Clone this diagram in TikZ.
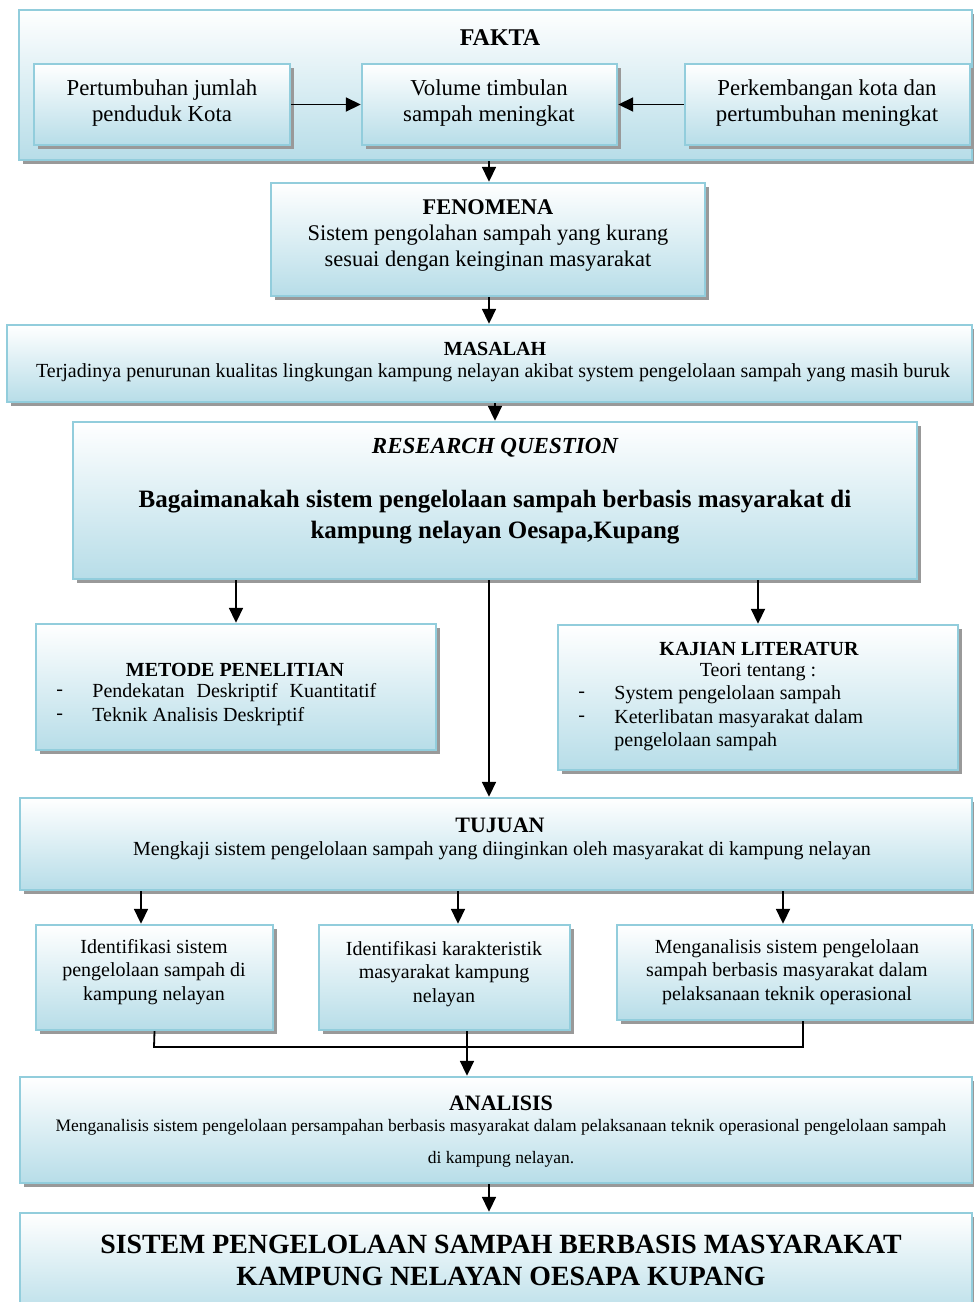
\documentclass[tikz,border=0pt]{standalone}
\usepackage{fontspec}
\setmainfont{Liberation Serif}
\usetikzlibrary{fit,shadows,arrows.meta}
\definecolor{bord}{RGB}{146,205,220}
\definecolor{botc}{RGB}{183,221,232}
\tikzset{
 box/.style={draw=bord, line width=1.2pt, top color=white, bottom color=botc, inner sep=0pt,
   drop shadow={shadow xshift=1.8pt, shadow yshift=-1.8pt, fill=black!40, opacity=1}},
 arr/.style={-{Triangle[length=7.5pt,width=7pt]}, line width=0.9pt},
 ln/.style={line width=0.9pt},
 txt/.style={inner sep=0pt, align=center, font=\fontsize{11.4}{13}\selectfont},
 lft/.style={inner sep=0pt, anchor=west, font=\fontsize{10}{12}\selectfont},
}
\begin{document}
\begin{tikzpicture}[x=0.5pt,y=-0.5pt]
\useasboundingbox (0,0) rectangle (974,1302);
% boxes
\node[box, fit={(19,10)(972,160)}] (fk) {};
\node[box, fit={(34,64)(290,145)}] (b1) {};
\node[box, fit={(362,64)(617,145)}] (b2) {};
\node[box, fit={(685,64)(970,145)}] (b3) {};
\node[box, fit={(271,183)(705,296)}] (fen) {};
\node[box, fit={(7,325)(972,402)}] (mas) {};
\node[box, fit={(73,422)(917,579)}] (rq) {};
\node[box, fit={(36,624)(436,750)}] (met) {};
\node[box, fit={(558,625)(958,770)}] (kaj) {};
\node[box, fit={(20,798)(972,890)}] (tuj) {};
\node[box, fit={(36,925)(273,1030)}] (ia) {};
\node[box, fit={(319,925)(570,1030)}] (ib) {};
\node[box, fit={(617,925)(972,1020)}] (ic) {};
\node[box, fit={(20,1077)(972,1183)}] (ana) {};
\node[box, fit={(20,1213)(972,1320)}] (fin) {};
% texts
\begin{scope}[yshift=-1pt]
\node[txt, font=\fontsize{12}{13}\selectfont\bfseries] (tfk) at (500,36) {FAKTA};
\node[txt] (t1) at (162,101) {Pertumbuhan jumlah\\penduduk Kota};
\node[txt] (t2) at (489,101) {Volume timbulan\\sampah meningkat};
\node[txt] (t3) at (827,101) {Perkembangan kota dan\\pertumbuhan meningkat};
\node[txt, font=\fontsize{11.2}{13}\selectfont] (tfen) at (488,233) {\textbf{FENOMENA}\\Sistem pengolahan sampah yang kurang\\sesuai dengan keinginan masyarakat};
\node[txt, font=\fontsize{10}{12}\selectfont\bfseries] (tmas1) at (495,347) {MASALAH};
\node[txt, font=\fontsize{10}{12}\selectfont] (tmas2) at (493,371) {Terjadinya penurunan kualitas lingkungan kampung nelayan akibat system pengelolaan sampah yang masih buruk};
\node[txt, font=\fontsize{11.5}{13}\selectfont\bfseries\itshape] (trq1) at (495,446) {RESEARCH QUESTION};
\node[txt, font=\fontsize{12.5}{15.5}\selectfont\bfseries] (trq2) at (495,515) {Bagaimanakah sistem pengelolaan sampah berbasis masyarakat di\\kampung nelayan Oesapa,Kupang};
\node[txt, font=\fontsize{10}{12}\selectfont\bfseries] (tmet) at (235,668) {METODE PENELITIAN};
\node[lft] (md1) at (56,691) {-};
\node[lft] (mi1) at (92,691) {Pendekatan\hspace{0.35em} Deskriptif\hspace{0.35em} Kuantitatif};
\node[lft] (md2) at (56,715) {-};
\node[lft] (mi2) at (92,715) {Teknik Analisis Deskriptif};
\node[txt, font=\fontsize{10}{12}\selectfont\bfseries] (tkaj) at (759,647) {KAJIAN LITERATUR};
\node[txt, font=\fontsize{10}{12}\selectfont] (tteo) at (758,670) {Teori tentang :};
\node[lft] (kd1) at (578,693) {-};
\node[lft] (ki1) at (614,693) {System pengelolaan sampah};
\node[lft] (kd2) at (578,717) {-};
\node[lft] (ki2) at (614,717) {Keterlibatan masyarakat dalam};
\node[lft] (ki3) at (614,740) {pengelolaan sampah};
\node[txt, font=\fontsize{11}{12}\selectfont\bfseries] (ttuj1) at (500,823) {TUJUAN};
\node[txt, font=\fontsize{10}{12}\selectfont] (ttuj2) at (502,849) {Mengkaji sistem pengelolaan sampah yang diinginkan oleh masyarakat di kampung nelayan};
\node[txt, font=\fontsize{10}{11.8}\selectfont] (tia) at (154,970) {Identifikasi sistem\\pengelolaan sampah di\\kampung nelayan};
\node[txt, font=\fontsize{10}{11.8}\selectfont] (tib) at (444,972) {Identifikasi karakteristik\\masyarakat kampung\\nelayan};
\node[txt, font=\fontsize{10}{11.8}\selectfont] (tic) at (787,970) {Menganalisis sistem pengelolaan\\sampah berbasis masyarakat dalam\\pelaksanaan teknik operasional};
\node[txt, font=\fontsize{11}{12}\selectfont\bfseries] (tana1) at (501,1101) {ANALISIS};
\node[txt, font=\fontsize{8.75}{16}\selectfont] (tana2) at (501,1141) {Menganalisis sistem pengelolaan persampahan berbasis masyarakat dalam pelaksanaan teknik operasional pengelolaan sampah\\di kampung nelayan.};
\node[txt, font=\fontsize{13.9}{16}\selectfont\bfseries] (tfin) at (501,1258) {SISTEM PENGELOLAAN SAMPAH BERBASIS MASYARAKAT\\KAMPUNG NELAYAN OESAPA KUPANG};
\end{scope}
% connectors
\coordinate (cx) at (489,0);
\coordinate (xa) at (141,0);
\coordinate (xb) at (458,0);
\coordinate (xc) at (783,0);
\coordinate (jl) at (154,1047);
\coordinate (jm) at (467,1047);
\coordinate (jr) at (803,1047);
\draw[arr] (b1.east) -- (b2.west);
\draw[arr] (b3.west) -- (b2.east);
\draw[arr] (cx |- fk.south) -- (cx |- fen.north);
\draw[arr] (cx |- fen.south) -- (cx |- mas.north);
\draw[arr] (rq.north |- mas.south) -- (rq.north);
\draw[arr] (met.north |- rq.south) -- (met.north);
\draw[arr] (kaj.north |- rq.south) -- (kaj.north);
\draw[arr] (cx |- rq.south) -- (cx |- tuj.north);
\draw[arr] (xa |- tuj.south) -- (xa |- ia.north);
\draw[arr] (xb |- tuj.south) -- (xb |- ib.north);
\draw[arr] (xc |- tuj.south) -- (xc |- ic.north);
\draw[ln] (ia.south) -- (jl) -- (jr) -- (jr |- ic.south);
\draw[ln] (jm |- ib.south) -- (jm);
\draw[arr] (jm) -- (jm |- ana.north);
\draw[arr] (cx |- ana.south) -- (cx |- fin.north);
\end{tikzpicture}
\end{document}
